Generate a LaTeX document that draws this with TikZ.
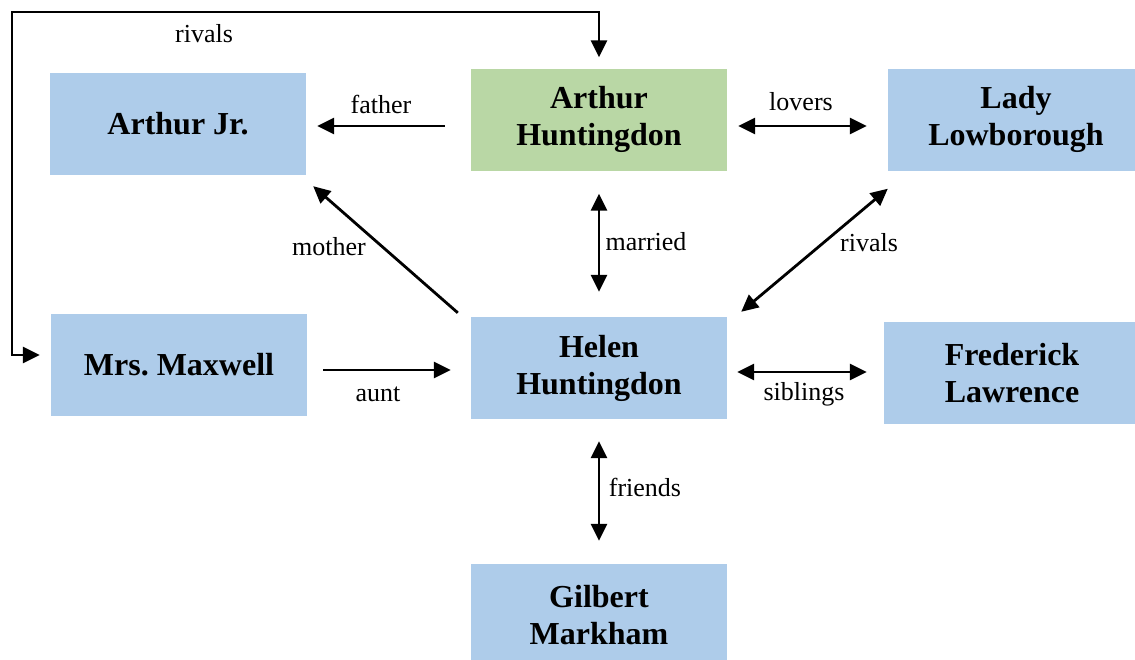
\documentclass[tikz,border=0pt]{standalone}
\usepackage{fontspec}
\setmainfont{Liberation Serif}
\usetikzlibrary{arrows.meta,calc}
\definecolor{boxblue}{RGB}{174,204,234}
\definecolor{boxgreen}{RGB}{185,215,165}
\frenchspacing
\begin{document}
\begin{tikzpicture}[x=1pt,y=-1pt,
  person/.style={fill=boxblue, draw=none, minimum width=256pt, minimum height=102pt,
    inner sep=0pt, align=center, font=\fontsize{32}{37}\selectfont\bfseries},
  lead/.style={person, fill=boxgreen},
  rel/.style={font=\fontsize{26}{30}\selectfont, inner sep=0pt},
  link/.style={line width=2.8pt, -{Triangle[length=17pt,width=16pt]}},
  both/.style={line width=2.8pt, {Triangle[length=17pt,width=16pt]}-{Triangle[length=17pt,width=16pt]}}]
\useasboundingbox (0,0) rectangle (1135,659);

% people
\node[person] (aj) at (178,124) {Arthur Jr.};
\node[lead]   (ah) at (599,119.5) {Arthur\\Huntingdon};
\node[person] (ll) at (1016,119.5) {Lady\\Lowborough};
\node[person] (mm) at (179,365) {Mrs. Maxwell};
\node[person] (hh) at (599,368) {Helen\\Huntingdon};
\node[person] (fl) at (1012,373) {Frederick\\Lawrence};
\node[person] (gm) at (599,615) {Gilbert\\Markham};

% relations
\draw[link] ($(ah.west)+(-26,6.5)$) -- ($(aj.east)+(11,2)$);
\draw[both] ($(ah.east)+(11,6.5)$) -- ($(ll.west)+(-21,6.5)$);
\draw[both] ($(ah.south)+(0,23)$) -- ($(hh.north)+(0,-25)$);
\draw[link] ($(hh.north west)+(-13,-4)$) -- ($(aj.south east)+(7,11)$);
\draw[both] ($(hh.north east)+(14,-5)$) -- ($(ll.south west)+(0,18)$);
\draw[link] ($(mm.east)+(16,5)$) -- ($(hh.west)+(-20,2)$);
\draw[both] ($(hh.east)+(10,4)$) -- ($(fl.west)+(-17,-1)$);
\draw[both] ($(hh.south)+(0,22)$) -- ($(gm.north)+(0,-23)$);
\coordinate (corner) at (12,12);
\draw[both] ($(ah.north)+(0,-11)$) |- (corner) |- ($(mm.west)+(-11,-10)$);

% relation labels
\node[rel] at (204,34) {rivals};
\node[rel] at (381,104) {father};
\node[rel] at (801,102) {lovers};
\node[rel] at (646,242) {married};
\node[rel] at (329,247) {mother};
\node[rel] at (869,243) {rivals};
\node[rel] at (378,394) {aunt};
\node[rel] at (804,394) {siblings};
\node[rel] at (645,487) {friends};
\end{tikzpicture}
\end{document}
